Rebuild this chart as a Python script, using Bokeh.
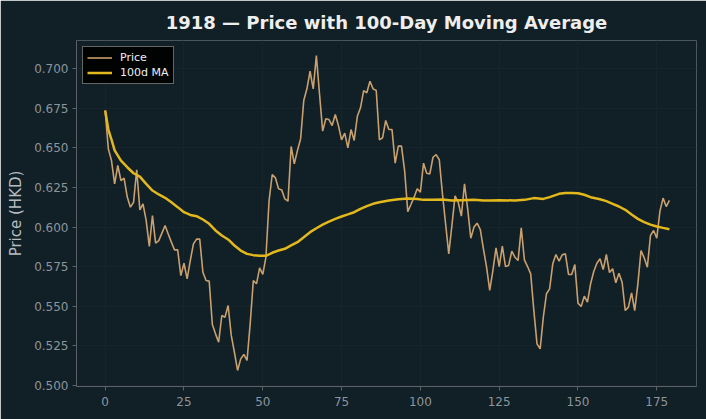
from bokeh.plotting import figure
from bokeh.models import Range1d, NumeralTickFormatter, Legend, LegendItem
from bokeh.embed import file_html
from bokeh.resources import INLINE

days = list(range(180))
price = [
    0.6736, 0.6494, 0.6420, 0.6273, 0.6389, 0.6294, 0.6309, 0.6190, 0.6126, 0.6157,
    0.6362, 0.6109, 0.6147, 0.6042, 0.5878, 0.6073, 0.5899, 0.5915, 0.5962, 0.6010,
    0.5957, 0.5905, 0.5856, 0.5856, 0.5694, 0.5772, 0.5673, 0.5789, 0.5894, 0.5924,
    0.5924, 0.5715, 0.5663, 0.5659, 0.5385, 0.5326, 0.5274, 0.5442, 0.5431, 0.5505,
    0.5316, 0.5210, 0.5095, 0.5168, 0.5196, 0.5158, 0.5389, 0.5663, 0.5642, 0.5743,
    0.5701, 0.5810, 0.6168, 0.6332, 0.6311, 0.6242, 0.6235, 0.6178, 0.6164, 0.6509,
    0.6399, 0.6484, 0.6557, 0.6799, 0.6873, 0.6984, 0.6873, 0.7083, 0.6840, 0.6606,
    0.6684, 0.6679, 0.6641, 0.6711, 0.6641, 0.6551, 0.6593, 0.6500, 0.6616, 0.6547,
    0.6700, 0.6753, 0.6862, 0.6848, 0.6921, 0.6873, 0.6862, 0.6551, 0.6564, 0.6673,
    0.6616, 0.6616, 0.6404, 0.6511, 0.6511, 0.6357, 0.6098, 0.6143, 0.6189, 0.6242,
    0.6221, 0.6404, 0.6340, 0.6336, 0.6441, 0.6458, 0.6425, 0.6210, 0.6021, 0.5831,
    0.6010, 0.6197, 0.6157, 0.6069, 0.6273, 0.6115, 0.5930, 0.6000, 0.6025, 0.5985,
    0.5863, 0.5747, 0.5600, 0.5726, 0.5869, 0.5751, 0.5880, 0.5751, 0.5758, 0.5848,
    0.5810, 0.5789, 0.5995, 0.5793, 0.5751, 0.5705, 0.5473, 0.5263, 0.5231, 0.5431,
    0.5579, 0.5610, 0.5768, 0.5827, 0.5785, 0.5825, 0.5831, 0.5701, 0.5701, 0.5764,
    0.5520, 0.5499, 0.5564, 0.5526, 0.5642, 0.5720, 0.5772, 0.5800, 0.5732, 0.5827,
    0.5713, 0.5737, 0.5648, 0.5709, 0.5652, 0.5473, 0.5495, 0.5585, 0.5473, 0.5642,
    0.5852, 0.5806, 0.5747, 0.5947, 0.5979, 0.5930, 0.6101, 0.6183, 0.6130, 0.6168,
]

ma_days = [0, 1, 2, 3, 5, 7, 9, 11, 13, 15, 17, 19, 21, 23, 25, 27, 29, 31, 33, 35,
           37, 39, 41, 43, 45, 47, 49, 51, 53, 55, 57, 59, 61, 63, 65, 67, 69, 71, 73,
           75, 77, 79, 81, 83, 85, 87, 90, 93, 96, 99, 101, 104, 107, 110, 113, 117,
           120, 122, 125, 130, 133, 136, 139, 141, 144, 146, 148, 150, 152, 154, 157,
           159, 161, 163, 165, 167, 169, 171, 173, 175, 177, 179]
ma_vals = [0.6736, 0.6616, 0.6553, 0.6484, 0.6420, 0.6378, 0.6340, 0.6319, 0.6273, 0.6231,
           0.6206, 0.6185, 0.6157, 0.6126, 0.6094, 0.6077, 0.6069, 0.6048, 0.6021, 0.5979,
           0.5947, 0.5922, 0.5884, 0.5852, 0.5831, 0.5823, 0.5819, 0.5819, 0.5838, 0.5852,
           0.5863, 0.5884, 0.5905, 0.5936, 0.5968, 0.5993, 0.6016, 0.6035, 0.6052,
           0.6067, 0.6080, 0.6094, 0.6115, 0.6132, 0.6147, 0.6157, 0.6168, 0.6176, 0.6181,
           0.6178, 0.6172, 0.6172, 0.6174, 0.6168, 0.6170, 0.6172,
           0.6168, 0.6168, 0.6170, 0.6168, 0.6172, 0.6183, 0.6178, 0.6189, 0.6210, 0.6216,
           0.6216, 0.6214, 0.6204, 0.6189, 0.6176,
           0.6164, 0.6147, 0.6130, 0.6109, 0.6080, 0.6052, 0.6031, 0.6016, 0.6004, 0.5995, 0.5987]

x_ticks = [0, 25, 50, 75, 100, 125, 150, 175]
y_ticks = [0.500, 0.525, 0.550, 0.575, 0.600, 0.625, 0.650, 0.675, 0.700]

BG = "#111f26"
FONT = "DejaVu Sans"

p = figure(width=706, height=419, output_backend="svg", toolbar_location=None,
           x_range=Range1d(-9.1, 187.6), y_range=Range1d(0.49937, 0.71781),
           min_border_left=76, min_border_right=10, min_border_top=40, min_border_bottom=33)
p.background_fill_color = BG
p.border_fill_color = BG
p.outline_line_color = None

p.title.text = "1918 \u2014 Price with 100-Day Moving Average"
p.title.align = "center"
p.title.text_font = FONT
p.title.text_font_size = "18px"
p.title.text_font_style = "bold"
p.title.text_color = "#eeeeee"
p.title.standoff = 16

r_price = p.line(days, price, line_color="#c9a06e", line_width=1.6)
r_ma = p.line(ma_days, ma_vals, line_color="#e3b81c", line_width=2.5)

for ax in (p.xaxis[0], p.yaxis[0]):
    ax.axis_line_color = "#5a6267"
    ax.major_tick_line_color = "#5a6267"
    ax.major_tick_out = 4
    ax.major_tick_in = 0
    ax.minor_tick_line_color = None
    ax.major_label_text_font = FONT
    ax.major_label_text_font_size = "12px"
    ax.major_label_text_color = "#8c959b"

p.xaxis.ticker = x_ticks
p.yaxis.ticker = y_ticks
p.yaxis.formatter = NumeralTickFormatter(format="0.000")
p.xaxis.major_label_standoff = 6
p.yaxis.major_label_standoff = 4
p.yaxis.axis_label = "Price (HKD)"
p.yaxis.axis_label_text_font = FONT
p.yaxis.axis_label_text_font_size = "15px"
p.yaxis.axis_label_text_font_style = "normal"
p.yaxis.axis_label_text_color = "#b7bcc0"
p.yaxis.axis_label_standoff = 6

p.xgrid.ticker = x_ticks
p.ygrid.ticker = y_ticks
p.grid.grid_line_color = "#17242b"
p.grid.grid_line_width = 1

legend = Legend(items=[LegendItem(label="Price", renderers=[r_price]),
                       LegendItem(label="100d MA", renderers=[r_ma])],
                location="top_left")
legend.margin = 6
legend.padding = 4
legend.spacing = 2
legend.label_height = 13
legend.glyph_height = 13
legend.glyph_width = 25
legend.label_standoff = 8
legend.label_text_font = FONT
legend.label_text_font_size = "11px"
legend.label_text_color = "#eeeeee"
legend.background_fill_color = "#000000"
legend.background_fill_alpha = 0.9
legend.border_line_color = "#c8c8c8"
legend.border_line_width = 1
p.add_layout(legend)

open("out.html", "w").write(file_html(p, INLINE))
